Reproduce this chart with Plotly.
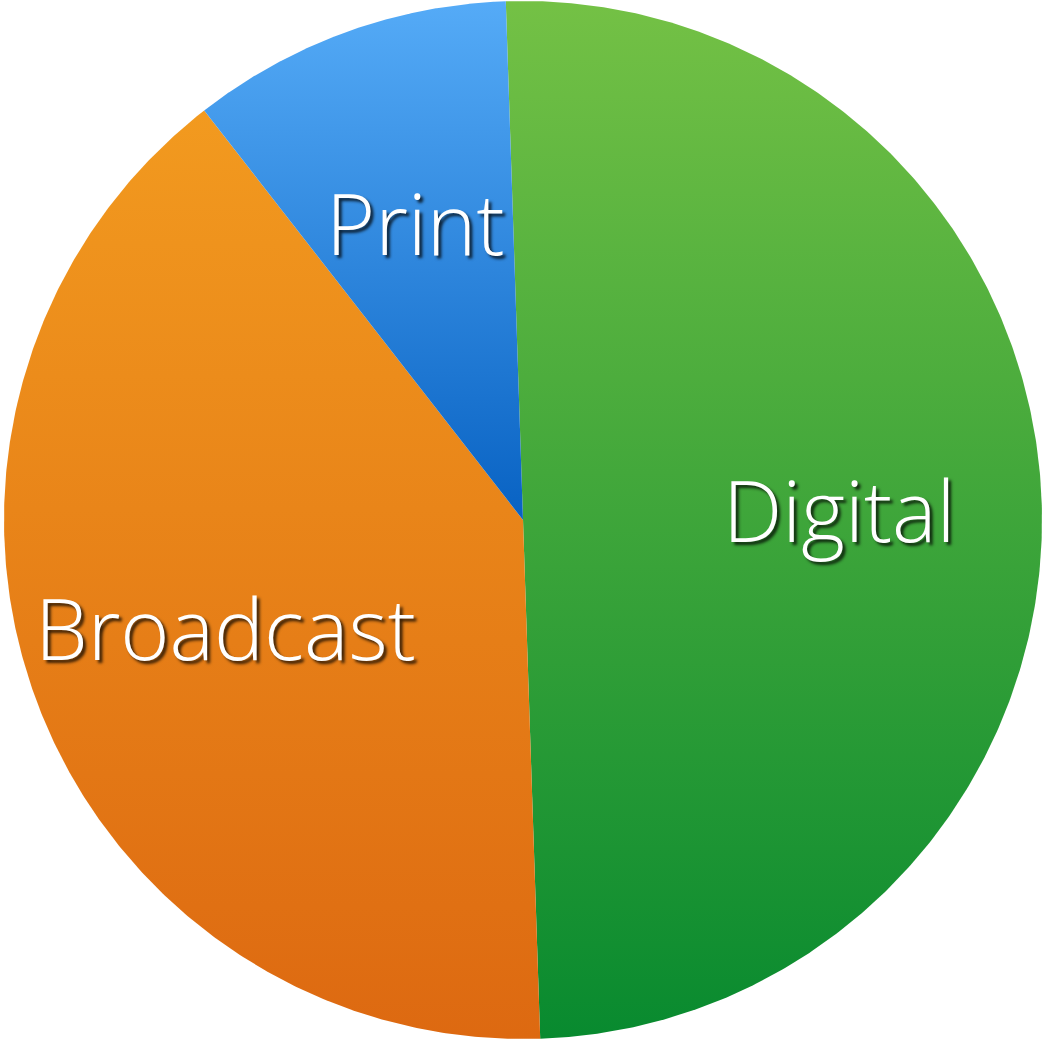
import numpy as np
import plotly.graph_objects as go

# Data
categories = ["Digital", "Broadcast", "Print"]
values = [50, 40, 10]
top_colors = ["#74c145", "#f29a1f", "#55abf7"]
bottom_colors = ["#088a2f", "#dd6911", "#0862c3"]

rotation_deg = -1.9  # start angle, clockwise from 12 o'clock

fig = go.Figure()
total = float(sum(values))
start = rotation_deg
label_pos = []
for cat, v, ct, cb in zip(categories, values, top_colors, bottom_colors):
    span = 360.0 * v / total
    th = np.radians(np.linspace(start, start + span, 400))
    xs = np.concatenate([[0.0], np.sin(th), [0.0]])
    ys = np.concatenate([[0.0], np.cos(th), [0.0]])
    fig.add_trace(go.Scatter(
        x=xs, y=ys, mode="lines", fill="toself",
        line=dict(width=0, color=cb),
        fillgradient=dict(type="vertical", colorscale=[[0, cb], [1, ct]]),
        hoverinfo="skip", showlegend=False, name=cat,
    ))
    mid = np.radians(start + span / 2)
    label_pos.append((0.61 * np.sin(mid), 0.61 * np.cos(mid)))
    start += span

for cat, (lx, ly) in zip(categories, label_pos):
    fig.add_annotation(
        x=lx, y=ly, xref="x", yref="y", text=cat, showarrow=False,
        font=dict(family="Open Sans", size=84, color="white", weight=300,
                  shadow="3px 3px 3px rgba(0,0,0,0.75)"),
        xanchor="center", yanchor="middle",
    )

W, H = 1042, 1040
cx, cy, R = 523, 520, 519
fig.update_xaxes(range=[(0 - cx) / R, (W - cx) / R], visible=False, fixedrange=True)
fig.update_yaxes(range=[(cy - H) / R, cy / R], visible=False, fixedrange=True)
fig.update_layout(
    width=W, height=H, margin=dict(l=0, r=0, t=0, b=0),
    paper_bgcolor="white", plot_bgcolor="white", showlegend=False,
)
fig.write_html("out.html", config={"displayModeBar": False})
